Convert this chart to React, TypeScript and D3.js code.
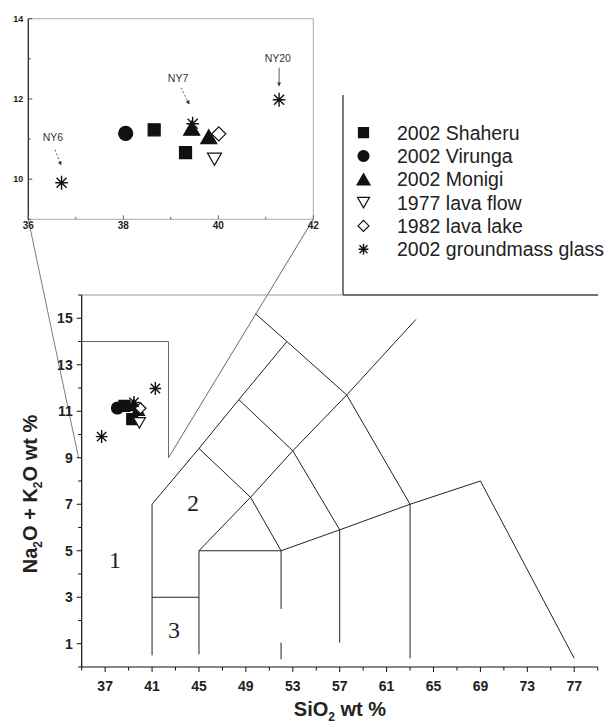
import React from 'react';
import * as d3 from 'd3';

// series
const seriesNames = ['2002 Shaheru', '2002 Virunga', '2002 Monigi', '1977 lava flow', '1982 lava lake', '2002 groundmass glass'];
const seriesSymbols = ['square', 'circle', 'triangle', 'triangleDown', 'diamond', 'star'];
const seriesFilled = [true, true, true, false, false, false];

const shaheruSiO2 = [38.65, 39.31];
const shaheruAlkali = [11.23, 10.66];
const virungaSiO2 = [38.05];
const virungaAlkali = [11.14];
const monigiSiO2 = [39.44, 39.8];
const monigiAlkali = [11.27, 11.06];
const flow1977SiO2 = [39.92];
const flow1977Alkali = [10.5];
const lake1982SiO2 = [40.01];
const lake1982Alkali = [11.13];
const glassSiO2 = [36.7, 39.46, 41.28];
const glassAlkali = [9.91, 11.38, 11.98];
const glassLabels = ['NY6', 'NY7', 'NY20'];

// ticks
const mainXTicks = [37, 41, 45, 49, 53, 57, 61, 65, 69, 73, 77];
const mainYTicks = [1, 3, 5, 7, 9, 11, 13, 15];
const insetXTicks = [36, 38, 40, 42];
const insetYTicks = [10, 12, 14];

// TAS field boundaries (SiO2, Na2O+K2O)
const tasBoundaries: [number, number][][] = [
  [[41, 0.5], [41, 7], [45, 9.4], [48.4, 11.5], [52.5, 14], [57.6, 11.7], [63, 7]],
  [[49.8, 15.2], [52.5, 14]],
  [[41, 3], [45, 3]],
  [[45, 0.55], [45, 5], [52, 5], [57, 5.9], [63, 7], [69, 8], [77, 0.37]],
  [[45, 5], [49.4, 7.3], [53, 9.3], [57.6, 11.7], [63.5, 14.95]],
  [[45, 9.4], [49.4, 7.3], [52, 5]],
  [[48.4, 11.5], [53, 9.3], [57, 5.9]],
  [[52, 5], [52, 2.5]],
  [[52, 1.05], [52, 0.33]],
  [[57, 5.9], [57, 1.05]],
  [[63, 7], [63, 0.37]],
];
const fieldLabels = ['1', '2', '3'];
const fieldSiO2 = [37.84, 44.5, 42.87];
const fieldAlkali = [4.6, 7.05, 1.59];

// area of the main plot that the inset enlarges
const zoomBoxSiO2 = [35, 42.4];
const zoomBoxAlkali = [9, 14];

const series = seriesNames.map((name, i) => {
  const xs = [shaheruSiO2, virungaSiO2, monigiSiO2, flow1977SiO2, lake1982SiO2, glassSiO2][i];
  const ys = [shaheruAlkali, virungaAlkali, monigiAlkali, flow1977Alkali, lake1982Alkali, glassAlkali][i];
  return { name, sym: seriesSymbols[i], filled: seriesFilled[i], points: xs.map((x, j) => [x, ys[j]] as [number, number]) };
});

const markerPath = (sym: string, s: number): string => {
  const h = (s * Math.sqrt(3)) / 2;
  switch (sym) {
    case 'square':
      return d3.symbol(d3.symbolSquare, s * s)() || '';
    case 'circle':
      return d3.symbol(d3.symbolCircle, (Math.PI * s * s) / 4)() || '';
    case 'triangle':
      return `M0,${-h / 2}L${s / 2},${h / 2}L${-s / 2},${h / 2}Z`;
    case 'triangleDown':
      return `M${-s / 2},${-h / 2}L${s / 2},${-h / 2}L0,${h / 2}Z`;
    case 'diamond':
      return `M0,${-s / 2}L${s / 2},0L0,${s / 2}L${-s / 2},0Z`;
    default: {
      const r = s / 2;
      const d = r * 0.72;
      return `M0,${-r}L0,${r}M${-d},${-d}L${d},${d}M${-d},${d}L${d},${-d}M${-r * 0.9},0L${r * 0.9},0`;
    }
  }
};

const symbolSize = (sym: string, where: string) => {
  const sizes: Record<string, number[]> = {
    square: [11, 12, 10],
    circle: [12, 14, 11],
    triangle: [13, 16, 13],
    triangleDown: [12, 14, 12],
    diamond: [11, 14, 11],
    star: [13, 14, 11],
  };
  const k = where === 'main' ? 0 : where === 'inset' ? 1 : 2;
  return sizes[sym][k];
};

const Marker: React.FC<{ sym: string; filled: boolean; x: number; y: number; size: number }> = ({ sym, filled, x, y, size }) => {
  const isStar = sym === 'star';
  return (
    <g transform={`translate(${x},${y})`}>
      <path
        d={markerPath(sym, size)}
        fill={isStar ? 'none' : filled ? '#111' : '#fff'}
        stroke="#111"
        strokeWidth={isStar ? 1.4 : 1.2}
        strokeLinejoin="miter"
      />
      {isStar && <circle r={1.6} fill="#111" />}
    </g>
  );
};

const App: React.FC = () => {
  const width = 616;
  const height = 727;

  const xMain = d3.scaleLinear().domain([35, 79]).range([81.7, 597.7]);
  const yMain = d3.scaleLinear().domain([0, 16]).range([667, 295]);
  const xIn = d3.scaleLinear().domain([36, 42]).range([28.3, 313.3]);
  const yIn = d3.scaleLinear().domain([9, 14]).range([219.3, 18.7]);

  const line = d3.line<[number, number]>().x(d => xMain(d[0])).y(d => yMain(d[1]));

  const font = '"Liberation Sans", Arial, sans-serif';
  const serif = '"Liberation Serif", "Times New Roman", serif';

  // label / arrow offsets (px) from each glass point in the inset
  const annotationOffsets = [
    { lx: -8.6, ly: -42, ax1: -6.6, ay1: -33, ax2: -0.6, ay2: -18, dashed: true },
    { lx: -14.6, ly: -42, ax1: -11.6, ay1: -36, ax2: -3.6, ay2: -20, dashed: true },
    { lx: -1.3, ly: -38, ax1: 0, ay1: -32, ax2: 0, ay2: -14, dashed: false },
  ];

  const legendX = 363.5;
  const legendTextX = 397;
  const legendY0 = 132.7;
  const legendStep = 23.3;

  return (
    <svg width={width} height={height} style={{ position: 'absolute', left: 0, top: 0, background: '#fff' }}>
      <defs>
        <marker id="arrow" viewBox="0 0 6 6" refX="5" refY="3" markerWidth="5" markerHeight="5" orient="auto">
          <path d="M0,0L6,3L0,6Z" fill="#333" />
        </marker>
      </defs>

      {/* ---------- inset ---------- */}
      <g>
        <rect x={xIn(36)} y={yIn(14)} width={xIn(42) - xIn(36)} height={yIn(9) - yIn(14)} fill="none" stroke="#aaa" strokeWidth={1} />
        <line x1={xIn(36)} x2={xIn(36)} y1={yIn(14)} y2={yIn(9)} stroke="#222" strokeWidth={1.2} />
        {d3.range(36, 42.01, 1).map(v => (
          <line key={'ixt' + v} x1={xIn(v)} x2={xIn(v)} y1={yIn(9)} y2={yIn(9) - (v % 2 === 0 ? 4 : 2.5)} stroke="#666" />
        ))}
        {d3.range(9, 14.01, 1).map(v => (
          <line key={'iyt' + v} x1={xIn(36)} x2={xIn(36) + (v % 2 === 0 ? 4 : 2.5)} y1={yIn(v)} y2={yIn(v)} stroke="#444" />
        ))}
        {insetXTicks.map(v => (
          <text key={'ixl' + v} x={xIn(v)} y={yIn(9) + 10} textAnchor="middle" fontFamily={font} fontSize={10} fontWeight="bold" fill="#222">
            {v}
          </text>
        ))}
        {insetYTicks.map(v => (
          <text key={'iyl' + v} x={xIn(36) - 5} y={yIn(v) + 3} textAnchor="end" fontFamily={font} fontSize={9} fontWeight="bold" fill="#222">
            {v}
          </text>
        ))}
        {series.map(s =>
          s.points.map((p, j) => (
            <Marker key={'ip' + s.name + j} sym={s.sym} filled={s.filled} x={xIn(p[0])} y={yIn(p[1])} size={symbolSize(s.sym, 'inset')} />
          ))
        )}
        {glassLabels.map((lab, i) => {
          const px = xIn(glassSiO2[i]);
          const py = yIn(glassAlkali[i]);
          const o = annotationOffsets[i];
          return (
            <g key={lab}>
              <text x={px + o.lx} y={py + o.ly} textAnchor="middle" fontFamily={font} fontSize={10.5} fill="#333">
                {lab}
              </text>
              <line
                x1={px + o.ax1}
                y1={py + o.ay1}
                x2={px + o.ax2}
                y2={py + o.ay2}
                stroke="#333"
                strokeWidth={0.8}
                strokeDasharray={o.dashed ? '2,2' : undefined}
                markerEnd="url(#arrow)"
              />
            </g>
          );
        })}
      </g>

      {/* connectors from inset to zoom box */}
      <line x1={xIn(36)} y1={yIn(9)} x2={xMain(34.73)} y2={yMain(zoomBoxAlkali[0])} stroke="#444" strokeWidth={0.7} />
      <line x1={xIn(42)} y1={yIn(9)} x2={xMain(zoomBoxSiO2[1])} y2={yMain(zoomBoxAlkali[0])} stroke="#444" strokeWidth={0.8} />

      {/* ---------- legend ---------- */}
      <line x1={343} x2={343} y1={95} y2={295} stroke="#444" strokeWidth={1.4} />
      <line x1={343} x2={598} y1={295} y2={295} stroke="#444" strokeWidth={1.4} />
      {series.map((s, i) => (
        <g key={'lg' + s.name}>
          <Marker sym={s.sym} filled={s.filled} x={legendX} y={legendY0 + i * legendStep} size={symbolSize(s.sym, 'legend')} />
          <text x={legendTextX} y={legendY0 + i * legendStep} dy="0.36em" fontFamily={font} fontSize={19.5} fill="#222">
            {s.name}
          </text>
        </g>
      ))}

      {/* ---------- main TAS plot ---------- */}
      <line x1={xMain(35)} x2={343} y1={yMain(16)} y2={yMain(16)} stroke="#999" strokeWidth={1} />
      <path
        d={line([[zoomBoxSiO2[0], zoomBoxAlkali[1]], [zoomBoxSiO2[1], zoomBoxAlkali[1]], [zoomBoxSiO2[1], zoomBoxAlkali[0]]]) || ''}
        fill="none"
        stroke="#666"
        strokeWidth={1}
      />
      {tasBoundaries.map((b, i) => (
        <path key={'tas' + i} d={line(b) || ''} fill="none" stroke="#222" strokeWidth={1} />
      ))}
      {fieldLabels.map((lab, i) => (
        <text key={'fl' + lab} x={xMain(fieldSiO2[i])} y={yMain(fieldAlkali[i])} dy="0.35em" textAnchor="middle" fontFamily={serif} fontSize={24} fill="#222">
          {lab}
        </text>
      ))}

      {/* axes */}
      <line x1={xMain(35)} x2={xMain(35)} y1={yMain(0)} y2={yMain(16)} stroke="#111" strokeWidth={1.2} />
      <line x1={xMain(35)} x2={xMain(79)} y1={yMain(0)} y2={yMain(0)} stroke="#111" strokeWidth={1.2} />
      {d3.range(35, 79.01, 2).map(v => (
        <line key={'mxt' + v} x1={xMain(v)} x2={xMain(v)} y1={yMain(0)} y2={yMain(0) + (mainXTicks.includes(v) ? 5 : 3.5)} stroke="#111" strokeWidth={1} />
      ))}
      {d3.range(0, 16.01, 1).map(v => (
        <line key={'myt' + v} x1={xMain(35)} x2={xMain(35) - (mainYTicks.includes(v) ? 5 : 3.5)} y1={yMain(v)} y2={yMain(v)} stroke="#111" strokeWidth={1} />
      ))}
      {mainXTicks.map(v => (
        <text key={'mxl' + v} x={xMain(v)} y={yMain(0) + 24} textAnchor="middle" fontFamily={font} fontSize={14} fontWeight="bold" fill="#222">
          {v}
        </text>
      ))}
      {mainYTicks.map(v => (
        <text key={'myl' + v} x={xMain(35) - 9} y={yMain(v)} dy="0.36em" textAnchor="end" fontFamily={font} fontSize={14} fontWeight="bold" fill="#222">
          {v}
        </text>
      ))}

      {/* data */}
      {series.map(s =>
        s.points.map((p, j) => (
          <Marker key={'mp' + s.name + j} sym={s.sym} filled={s.filled} x={xMain(p[0])} y={yMain(p[1])} size={symbolSize(s.sym, 'main')} />
        ))
      )}

      {/* axis titles */}
      <text x={340} y={716} textAnchor="middle" fontFamily={font} fontSize={20} fontWeight="bold" fill="#222">
        SiO<tspan fontSize={12} dy={5}>2</tspan>
        <tspan dy={-5}> wt %</tspan>
      </text>
      <text transform="translate(37,494) rotate(-90)" textAnchor="middle" fontFamily={font} fontSize={20} fontWeight="bold" fill="#222">
        Na<tspan fontSize={12} dy={5}>2</tspan>
        <tspan dy={-5}>O + K</tspan>
        <tspan fontSize={12} dy={5}>2</tspan>
        <tspan dy={-5}>O wt %</tspan>
      </text>
    </svg>
  );
};

export default App;
